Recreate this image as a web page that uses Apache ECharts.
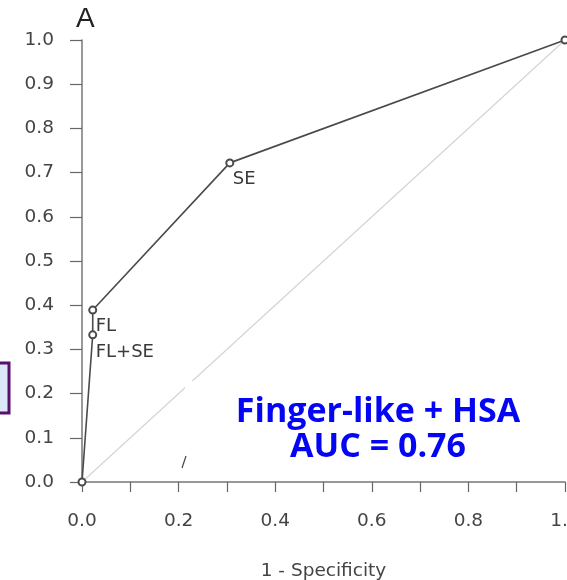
<!DOCTYPE html>
<html>
<head>
<meta charset="utf-8">
<script src="https://cdn.jsdelivr.net/npm/echarts@6/dist/echarts.min.js"></script>
<style>html,body{margin:0;padding:0;background:#fff;}#c{width:567px;height:580px;}</style>
</head>
<body>
<div id="c"></div>
<script>
// ROC points (1 - specificity, sensitivity), in drawing order
var fpr = [0.0, 0.0222, 0.0222, 0.306, 1.0];
var tpr = [0.0, 0.333, 0.389, 0.722, 1.0];
var pointLabels = ['', 'FL+SE', 'FL', 'SE', ''];
// chance diagonal
var diagX = [0, 1];
var diagY = [0, 1];
var annotationLines = ['Finger-like + HSA', 'AUC = 0.76'];
var panelTitle = 'A';
var xAxisName = '1 - Specificity';

var chart = echarts.init(document.getElementById('c'));
var rocData = fpr.map(function (x, i) {
  return { value: [x, tpr[i]], name: pointLabels[i] };
});
var labelOffsets = { 'FL+SE': [3, 18], 'FL': [3, 16], 'SE': [3, 16] };
rocData.forEach(function (d) {
  if (d.name) {
    d.label = { show: true, position: 'inside', offset: labelOffsets[d.name], formatter: d.name, align: 'left', color: '#3a3a3a', fontSize: 18, fontFamily: 'DejaVu Sans' };
  }
});
var axisText = { color: '#444', fontSize: 18.5, fontFamily: 'DejaVu Sans' };
chart.setOption({
  animation: false,
  backgroundColor: '#fff',
  grid: { left: 82, right: 2, top: 40, bottom: 98, containLabel: false, outerBoundsMode: 'none' },
  xAxis: {
    type: 'value', min: 0, max: 1, interval: 0.2,
    name: xAxisName, nameLocation: 'middle', nameGap: 80,
    nameTextStyle: { color: '#444', fontSize: 18.5, fontFamily: 'DejaVu Sans' },
    axisLine: { show: true, lineStyle: { color: '#777', width: 1.5 } },
    axisTick: { show: true, length: 10, inside: false, lineStyle: { color: '#666', width: 1.2 } },
    minorTick: { show: true, splitNumber: 2, length: 10, lineStyle: { color: '#666', width: 1.2 } },
    splitLine: { show: false },
    axisLabel: Object.assign({ margin: 30, formatter: function (v) { return v.toFixed(1); } }, axisText)
  },
  yAxis: {
    type: 'value', min: 0, max: 1, interval: 0.1,
    axisLine: { show: true, lineStyle: { color: '#777', width: 1.5 } },
    axisTick: { show: true, length: 12, inside: false, lineStyle: { color: '#666', width: 1.2 } },
    splitLine: { show: false },
    axisLabel: Object.assign({ margin: 28, formatter: function (v) { return v.toFixed(1); } }, axisText)
  },
  series: [
    {
      type: 'line', data: diagX.map(function (x, i) { return [x, diagY[i]]; }),
      symbol: 'none', lineStyle: { color: '#d4d4d4', width: 1.2 }, z: 1
    },
    {
      type: 'line', data: rocData, symbol: 'emptyCircle', symbolSize: 7,
      itemStyle: { color: '#4a4a4a', borderColor: '#4a4a4a', borderWidth: 1.2 },
      lineStyle: { color: '#4a4a4a', width: 1.6 }, z: 2
    }
  ],
  graphic: [
    { type: 'text', left: 76, top: 5, z: 10, style: { text: panelTitle, font: '28px "Liberation Sans"', fill: '#222' } },
    { type: 'rect', shape: { x: 185, y: 381, width: 360, height: 99 }, style: { fill: '#fff' }, z: 5 },
    { type: 'line', shape: { x1: 182, y1: 468, x2: 186, y2: 456 }, style: { stroke: '#444', lineWidth: 1.2 }, z: 6 },
    { type: 'text', x: 378, y: 395, z: 10, style: { text: annotationLines.join('\n'), font: 'bold 34px "Open Sans"', fill: '#0505f5', textAlign: 'center', lineHeight: 35 } },
    { type: 'rect', shape: { x: -3, y: 363, width: 12, height: 50 }, style: { fill: '#dce8f8', stroke: '#5b0f6e', lineWidth: 3 }, z: 10 }
  ]
});
</script>
</body>
</html>
